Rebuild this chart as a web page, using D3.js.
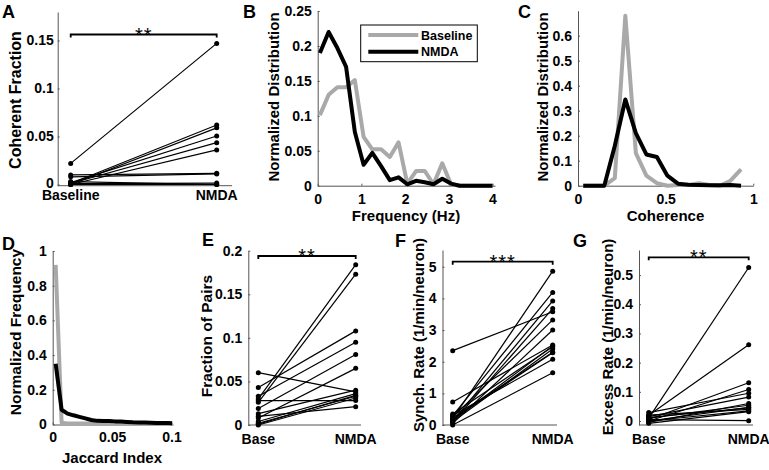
<!DOCTYPE html>
<html><head><meta charset="utf-8">
<script src="https://cdn.jsdelivr.net/npm/d3@7"></script>
<style>
body{margin:0;background:#fff;}
svg text{font-family:"Liberation Sans",Arial,Helvetica,sans-serif;font-weight:bold;fill:#000;}
</style></head><body>
<svg id="c" width="769" height="470"></svg>
<script>
// ---------------- data ----------------
const catsA = ["Baseline", "NMDA"];
const catsShort = ["Base", "NMDA"];

// Panel A: coherent fraction (paired)
const aBase = [0.022, 0.001, 0.000, 0.002, 0.001, 0.000, 0.010, 0.008, 0.003, 0.001, 0.000];
const aNmda = [0.147, 0.062, 0.059, 0.0505, 0.0436, 0.036, 0.0116, 0.0110, 0.000, 0.0015, 0.000];
const aTicks = [0, 0.05, 0.1, 0.15];

// Panel B: frequency distribution
const bFreq = [0.05, 0.25, 0.45, 0.65, 0.85, 1.05, 1.25, 1.45, 1.65, 1.85, 2.05, 2.25, 2.45, 2.65, 2.85, 3.05, 3.25, 3.45, 3.65, 3.85, 4.0];
const bBaseline = [0.101, 0.13, 0.141, 0.141, 0.151, 0.07, 0.052, 0.052, 0.041, 0.062, 0.003, 0.021, 0.021, 0.002, 0.032, 0.002, 0, 0, 0, 0, 0];
const bNmda = [0.19, 0.22, 0.197, 0.17, 0.077, 0.03, 0.047, 0.028, 0.008, 0.012, 0.002, 0.007, 0.005, 0.002, 0.01, 0.003, 0, 0, 0, 0, 0];
const bXTicks = [0, 1, 2, 3, 4];
const bYTicks = [0, 0.05, 0.1, 0.15, 0.2, 0.25];

// Panel C: coherence distribution
const cCoh = [0.03, 0.09, 0.15, 0.21, 0.27, 0.33, 0.39, 0.45, 0.51, 0.57, 0.63, 0.69, 0.75, 0.81, 0.87, 0.93];
const cBaseline = [0, 0, 0, 0.03, 0.68, 0.13, 0.04, 0.01, 0, 0.003, 0.003, 0.01, 0.003, 0, 0.02, 0.065];
const cNmda = [0, 0, 0, 0.16, 0.345, 0.21, 0.125, 0.115, 0.04, 0.008, 0.004, 0.003, 0.002, 0.002, 0.003, 0];
const cXTicks = [0, 0.5, 1];
const cYTicks = [0, 0.1, 0.2, 0.3, 0.4, 0.5, 0.6];

// Panel D: Jaccard index distribution
const dJac = [0.0025, 0.0075, 0.0125, 0.0175, 0.0225, 0.0275, 0.0325, 0.0375, 0.0425, 0.0475, 0.0525, 0.0575, 0.0625, 0.0675, 0.0725, 0.0775, 0.0825, 0.0875, 0.0925, 0.0975, 0.1005];
const dBaseline = [0.92, 0.01, 0.006, 0.006, 0.006, 0.006, 0.006, 0.006, 0.006, 0.006, 0.006, 0.006, 0.006, 0.006, 0.006, 0.006, 0.006, 0.006, 0.006, 0.006, 0.006];
const dNmda = [0.35, 0.085, 0.063, 0.053, 0.044, 0.035, 0.026, 0.021, 0.02, 0.02, 0.018, 0.017, 0.015, 0.013, 0.012, 0.011, 0.01, 0.009, 0.008, 0.008, 0.007];
const dXTicks = [0, 0.05, 0.1];
const dYTicks = [0, 0.2, 0.4, 0.6, 0.8, 1];

// Panel E: fraction of pairs
const eBase = [0.030, 0.026, 0.043, 0.033, 0.019, 0.008, 0.060, 0.028, 0.013, 0.004, 0.001, 0.000, 0.010, 0.002];
const eNmda = [0.184, 0.173, 0.108, 0.095, 0.081, 0.065, 0.038, 0.028, 0.040, 0.036, 0.034, 0.031, 0.021, 0.033];
const eTicks = [0, 0.05, 0.1, 0.15, 0.2];

// Panel F: synch rate
const fBase = [0.2, 0.3, 0.12, 2.35, 0.08, 0.25, 0.05, 0.73, 0.35, 0.18, 0.1, 0.3, 0.0, 0.15, 0.22];
const fNmda = [4.86, 4.19, 3.92, 3.58, 3.68, 3.32, 3.0, 2.53, 2.47, 2.28, 2.4, 2.08, 1.65, 2.5, 2.3];
const fTicks = [0, 1, 2, 3, 4, 5];

// Panel G: excess rate
const gBase = [0.01, 0.02, 0.005, 0.0, 0.029, 0.015, -0.005, 0.01, 0.0, 0.02, -0.008, 0.005, 0.012, 0.0];
const gNmda = [0.526, 0.261, 0.131, 0.108, 0.095, 0.082, 0.060, 0.054, 0.047, 0.040, 0.032, 0.001, 0.045, 0.035];
const gTicks = [0, 0.1, 0.2, 0.3, 0.4, 0.5];

// ---------------- drawing ----------------
const svg = d3.select("#c");
const AX = "#555";
const GRAY = "#a9a9a9";
const fmt = d3.format("~g");

function styleAxis(g) {
  g.attr("font-size", null).attr("font-family", null);
  g.select(".domain").attr("stroke", AX).attr("stroke-width", 1);
  g.selectAll(".tick line").attr("stroke", AX);
  g.selectAll(".tick text").style("font-size", "14px").attr("fill", "#000");
}

function yAxis(scale, x, ticks, pad) {
  const g = svg.append("g").attr("transform", `translate(${x},0)`)
    .call(d3.axisLeft(scale).tickValues(ticks).tickFormat(fmt).tickSizeInner(-2).tickSizeOuter(0).tickPadding(pad));
  styleAxis(g);
  return g;
}
function xAxisLin(scale, y, ticks, pad) {
  const g = svg.append("g").attr("transform", `translate(0,${y})`)
    .call(d3.axisBottom(scale).tickValues(ticks).tickFormat(fmt).tickSizeInner(-2).tickSizeOuter(0).tickPadding(pad));
  styleAxis(g);
}
function xAxisCat(pt, x0, x1, y, pad) {
  svg.append("line").attr("x1", x0).attr("x2", x1).attr("y1", y).attr("y2", y)
    .attr("stroke", AX).attr("stroke-width", 1);
  svg.append("g").selectAll("text").data(pt.domain()).join("text")
    .attr("x", d => pt(d)).attr("y", y + pad).attr("dy", "0.71em")
    .attr("text-anchor", "middle").style("font-size", "14px").text(d => d);
}
function yLabel(txt, cx, cy, size) {
  svg.append("text").attr("transform", `translate(${cx},${cy}) rotate(-90)`)
    .attr("text-anchor", "middle").attr("dy", "0.35em").style("font-size", (size || 15) + "px").text(txt);
}
function xLabel(txt, cx, y) {
  svg.append("text").attr("x", cx).attr("y", y).attr("text-anchor", "middle")
    .style("font-size", "15px").text(txt);
}
function letter(t, x, y) {
  svg.append("text").attr("x", x).attr("y", y).style("font-size", "18px").text(t);
}
function paired(pt, ys, base, nmda) {
  const cats = pt.domain();
  const g = svg.append("g");
  base.forEach((b, i) => {
    g.append("line").attr("x1", pt(cats[0])).attr("y1", ys(b))
      .attr("x2", pt(cats[1])).attr("y2", ys(nmda[i]))
      .attr("stroke", "#000").attr("stroke-width", 1.2);
  });
  g.selectAll("c.b").data(base).join("circle").attr("cx", pt(cats[0])).attr("cy", d => ys(d)).attr("r", 2.5).attr("fill", "#000");
  g.selectAll("c.n").data(nmda).join("circle").attr("cx", pt(cats[1])).attr("cy", d => ys(d)).attr("r", 2.5).attr("fill", "#000");
}
function sigBar(pt, y, stars) {
  const cats = pt.domain();
  const x0 = pt(cats[0]), x1 = pt(cats[1]);
  svg.append("path").attr("d", `M${x0},${y + 3}V${y}H${x1}V${y + 3}`)
    .attr("fill", "none").attr("stroke", "#000").attr("stroke-width", 1.8);
  svg.append("text").attr("x", (x0 + x1) / 2).attr("y", y + 7).attr("text-anchor", "middle")
    .style("font-size", "20px").style("font-weight", "normal").style("letter-spacing", "1px").text(stars);
}
function thickLine(xs, ys, xv, yv, color) {
  const pts = xv.map((x, i) => [x, yv[i]]);
  svg.append("path").attr("d", d3.line().x(d => xs(d[0])).y(d => ys(d[1]))(pts))
    .attr("fill", "none").attr("stroke", color).attr("stroke-width", 4)
    .attr("stroke-linejoin", "round");
}

// ---- Panel A ----
{
  const ys = d3.scaleLinear().domain([-0.00125, 0.1797]).range([185.7, 12]);
  const pt = d3.scalePoint().domain(catsA).range([70.7, 216.7]);
  const ga = yAxis(ys, 57.7, aTicks, 4);
  ga.selectAll(".tick text").filter(d => d === 0).attr("dy", "0.2em");
  xAxisCat(pt, 57.7, 232, 185.7, 4.5);
  paired(pt, ys, aBase, aNmda);
  sigBar(pt, 34.5, "**");
  yLabel("Coherent Fraction", 15, 100, 16);
  letter("A", 2, 18);
}
// ---- Panel B ----
{
  const xs = d3.scaleLinear().domain([0, 4.057]).range([317.7, 495]);
  const ys = d3.scaleLinear().domain([0, 0.25]).range([185.7, 11]);
  yAxis(ys, 317.7, bYTicks, 6);
  xAxisLin(xs, 185.7, bXTicks, 8);
  thickLine(xs, ys, bFreq, bBaseline, GRAY);
  thickLine(xs, ys, bFreq, bNmda, "#000");
  // legend
  svg.append("rect").attr("x", 360.7).attr("y", 25).attr("width", 116.6).attr("height", 36.7)
    .attr("fill", "#fff").attr("stroke", "#000").attr("stroke-width", 1);
  svg.append("line").attr("x1", 368.3).attr("x2", 418.3).attr("y1", 35).attr("y2", 35).attr("stroke", GRAY).attr("stroke-width", 4);
  svg.append("line").attr("x1", 368.3).attr("x2", 418.3).attr("y1", 51.7).attr("y2", 51.7).attr("stroke", "#000").attr("stroke-width", 4);
  svg.append("text").attr("x", 421).attr("y", 39.5).style("font-size", "12.5px").text("Baseline");
  svg.append("text").attr("x", 421).attr("y", 56.2).style("font-size", "12.5px").text("NMDA");
  yLabel("Normalized Distribution", 274, 97);
  xLabel("Frequency (Hz)", 406, 221);
  letter("B", 243, 18);
}
// ---- Panel C ----
{
  const xs = d3.scaleLinear().domain([0, 1]).range([578, 753.3]);
  const ys = d3.scaleLinear().domain([0, 0.7]).range([185.7, 10.7]);
  yAxis(ys, 578, cYTicks, 6);
  xAxisLin(xs, 185.7, cXTicks, 8);
  thickLine(xs, ys, cCoh, cBaseline, GRAY);
  thickLine(xs, ys, cCoh, cNmda, "#000");
  yLabel("Normalized Distribution", 543, 97);
  xLabel("Coherence", 665.5, 221);
  letter("C", 518, 18);
}
// ---- Panel D ----
{
  const xs = d3.scaleLinear().domain([0, 0.10126]).range([52.7, 173]);
  const ys = d3.scaleLinear().domain([0, 1]).range([424.5, 251]);
  yAxis(ys, 52.7, dYTicks, 6);
  xAxisLin(xs, 424.5, dXTicks, 8);
  thickLine(xs, ys, dJac, dBaseline, GRAY);
  thickLine(xs, ys, dJac, dNmda, "#000");
  yLabel("Normalized Frequency", 16, 332, 15.5);
  xLabel("Jaccard Index", 112, 463);
  letter("D", 2, 250);
}
// ---- Panel E ----
{
  const ys = d3.scaleLinear().domain([0, 0.2]).range([425, 250.7]);
  const pt = d3.scalePoint().domain(catsShort).range([258.3, 355.7]);
  yAxis(ys, 248.3, eTicks, 6);
  xAxisCat(pt, 248.3, 361, 425, 9);
  paired(pt, ys, eBase, eNmda);
  sigBar(pt, 256, "**");
  yLabel("Fraction of Pairs", 207, 336, 15.5);
  letter("E", 202, 246);
}
// ---- Panel F ----
{
  const ys = d3.scaleLinear().domain([0, 5.53]).range([425, 250]);
  const pt = d3.scalePoint().domain(catsShort).range([452.7, 552.7]);
  yAxis(ys, 442.5, fTicks, 6);
  xAxisCat(pt, 442.5, 557, 425, 9);
  paired(pt, ys, fBase, fNmda);
  sigBar(pt, 261.7, "***");
  yLabel("Synch. Rate (1/min/neuron)", 419, 335);
  letter("F", 395, 247);
}
// ---- Panel G ----
{
  const ys = d3.scaleLinear().domain([-0.0137, 0.586]).range([425, 250]);
  const pt = d3.scalePoint().domain(catsShort).range([648.7, 748.7]);
  yAxis(ys, 639, gTicks, 6);
  xAxisCat(pt, 639, 753, 425, 9);
  paired(pt, ys, gBase, gNmda);
  sigBar(pt, 257.3, "**");
  yLabel("Excess Rate (1/min/neuron)", 608, 337);
  letter("G", 573, 247);
}
</script>
</body></html>
